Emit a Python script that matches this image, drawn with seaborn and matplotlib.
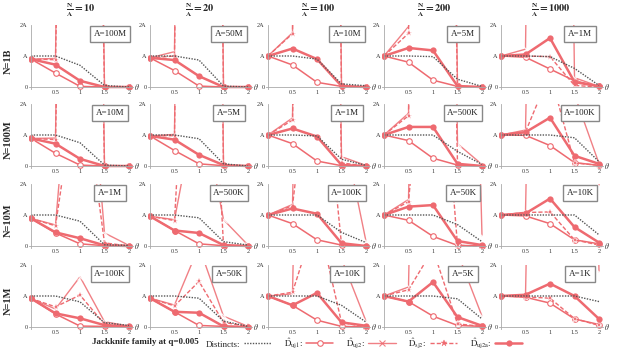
import matplotlib
matplotlib.use("Agg")
import matplotlib.pyplot as plt
import seaborn as sns
from matplotlib.lines import Line2D

sns.set_theme(style="white")
plt.rcParams['font.family'] = ['Liberation Serif', 'DejaVu Serif']
plt.rcParams['mathtext.fontset'] = 'stix'

# ---------------- data (values in units of A) ----------------
THETA = [0, 0.5, 1, 1.5, 2]
COL_RATIOS = ["10", "20", "100", "200", "1000"]
ROW_LABELS = ["N=1B", "N=100M", "N=10M", "N=1M"]
A_LABELS = [
    ["A=100M", "A=50M", "A=10M", "A=5M", "A=1M"],
    ["A=10M", "A=5M", "A=1M", "A=500K", "A=100K"],
    ["A=1M", "A=500K", "A=100K", "A=50K", "A=10K"],
    ["A=100K", "A=50K", "A=10K", "A=5K", "A=1K"],
]

DISTINCTS = [
    [1.0, 1.0, 0.70, 0.05, 0.0], [1.0, 1.0, 0.87, 0.03, 0.0], [1.0, 1.0, 0.90, 0.10, 0.04],
    [1.0, 1.0, 0.98, 0.25, 0.02], [1.0, 1.0, 0.98, 0.60, 0.05],
    [1.0, 1.0, 0.75, 0.03, 0.0], [1.0, 1.0, 0.88, 0.07, 0.0], [1.0, 1.0, 0.97, 0.22, 0.02],
    [1.0, 1.0, 1.0, 0.47, 0.05], [1.0, 1.0, 1.0, 0.91, 0.14],
    [1.0, 1.0, 0.80, 0.04, 0.02], [1.0, 1.0, 0.91, 0.14, 0.03], [1.0, 1.0, 1.0, 0.44, 0.11],
    [1.0, 1.0, 1.0, 0.69, 0.14], [1.0, 1.0, 1.0, 1.0, 0.36],
    [1.0, 1.0, 0.81, 0.14, 0.05], [1.0, 1.0, 0.93, 0.19, 0.02], [1.0, 1.0, 1.0, 0.70, 0.16],
    [1.0, 1.0, 1.0, 0.91, 0.26], [1.0, 1.0, 1.0, 1.0, 0.82],
]
UJ1 = [
    [0.90, 0.45, 0.02, 0.0, 0.0], [0.94, 0.53, 0.03, 0.0, 0.0], [1.0, 0.71, 0.15, 0.02, 0.0],
    [1.0, 0.80, 0.22, 0.02, 0.0], [1.0, 0.96, 0.58, 0.20, 0.02],
    [0.89, 0.41, 0.03, 0.0, 0.0], [0.97, 0.50, 0.07, 0.01, 0.0], [1.0, 0.72, 0.16, 0.01, 0.0],
    [1.0, 0.82, 0.25, 0.03, 0.0], [1.0, 0.99, 0.66, 0.11, 0.02],
    [0.89, 0.42, 0.07, 0.01, 0.0], [0.96, 0.50, 0.07, 0.01, 0.0], [1.0, 0.72, 0.20, 0.03, 0.0],
    [1.0, 0.83, 0.31, 0.02, 0.0], [1.0, 0.97, 0.72, 0.20, 0.07],
    [0.92, 0.42, 0.03, 0.02, 0.0], [0.93, 0.49, 0.05, 0.02, 0.0], [1.0, 0.70, 0.22, 0.02, 0.0],
    [1.0, 0.82, 0.35, 0.05, 0.02], [1.0, 0.96, 0.77, 0.26, 0.08],
]
UJ2 = [
    [0.90, 0.92, 60, 0.0, 0.0], [0.94, 1.14, 80, 0.0, 0.0], [1.0, 1.75, 80, 0.03, 0.0],
    [1.0, 1.95, 60, 0.02, 0.0], [1.0, 1.22, 60, 0.30, 0.02],
    [0.89, 0.90, 60, 0.0, 0.0], [0.97, 1.02, 80, 0.02, 0.0], [1.0, 1.55, 60, 0.30, 0.02],
    [1.0, 1.70, 60, 0.72, 0.05], [1.0, 1.16, 40, 2.3, 0.08],
    [0.89, 0.68, 10, 0.42, 0.02], [0.96, 0.85, 5, 0.85, 0.03], [1.0, 1.34, 40, 4.0, 0.15],
    [1.0, 1.50, 40, 30, 0.33], [1.0, 1.09, 40, 40, 1.95],
    [0.92, 0.58, 1.62, 0.17, 0.03], [0.93, 0.71, 2.6, 0.35, 0.02], [1.0, 1.07, 40, 2.2, 0.19],
    [1.0, 1.29, 40, 2.4, 0.35], [1.0, 1.03, 40, 40, 1.78],
]
SJ2 = [
    [0.90, 0.88, 40, 0.0, 0.0], [0.94, 1.0, 60, 0.0, 0.0], [1.0, 1.72, 60, 0.02, 0.0],
    [1.0, 1.73, 40, 0.02, 0.0], [1.0, 1.0, 0.98, 0.05, 0.0],
    [0.89, 0.85, 40, 0.0, 0.0], [0.97, 0.98, 60, 0.0, 0.0], [1.0, 1.48, 40, 0.10, 0.0],
    [1.0, 1.62, 40, 0.05, 0.0], [1.0, 1.10, 3.0, 0.10, 0.02],
    [0.89, 0.65, 6, 0.10, 0.0], [0.96, 0.82, 15, 0.02, 0.0], [1.0, 1.30, 8, 0.05, 0.0],
    [1.0, 1.43, 10, 0.02, 0.0], [1.0, 1.08, 1.10, 0.20, 0.03],
    [0.92, 0.65, 1.03, 0.09, 0.02], [0.93, 0.68, 1.47, 0.15, 0.02], [1.0, 1.12, 3.6, 0.15, 0.0],
    [1.0, 1.20, 2.5, 0.10, 0.02], [1.0, 0.97, 0.93, 0.27, 0.05],
]
UJ2A = [
    [0.90, 0.72, 0.20, 0.0, 0.0], [0.94, 0.87, 0.35, 0.0, 0.0], [1.0, 1.24, 0.90, 0.03, 0.0],
    [1.0, 1.26, 1.18, 0.03, 0.0], [1.0, 1.05, 1.58, 0.16, 0.02],
    [0.89, 0.72, 0.23, 0.0, 0.0], [0.97, 0.85, 0.36, 0.03, 0.0], [1.0, 1.21, 0.95, 0.03, 0.0],
    [1.0, 1.26, 1.26, 0.07, 0.0], [1.0, 1.09, 1.56, 0.33, 0.07],
    [0.89, 0.44, 0.25, 0.02, 0.0], [0.96, 0.50, 0.42, 0.03, 0.0], [1.0, 1.21, 1.04, 0.09, 0.0],
    [1.0, 1.27, 1.32, 0.16, 0.03], [1.0, 1.05, 1.53, 0.61, 0.11],
    [0.92, 0.44, 0.28, 0.06, 0.02], [0.93, 0.49, 0.46, 0.02, 0.0], [1.0, 0.70, 1.10, 0.15, 0.04],
    [1.0, 0.82, 1.45, 0.32, 0.04], [1.0, 1.04, 1.40, 1.0, 0.26],
]

# ---------------- style ----------------
RED = "#EE6A70"
GRAY = "#555555"
W, H = 619, 351
fig = plt.figure(figsize=(W / 100, H / 100), dpi=100)

COL_X0 = [31, 150, 268, 384, 501]      # pixel of theta = 0
ROW_ZERO = [87, 166, 246, 327]          # pixel of value 0
UX = 49.0                               # px per theta unit
UY = 31.0                               # px per A
XL = (-0.04, 2.08)
YL = (-0.05, 2.0)
PANEL_W = (XL[1] - XL[0]) * UX
PANEL_H = (YL[1] - YL[0]) * UY


def add_panel(r, c):
    left = COL_X0[c] + XL[0] * UX
    bottom = ROW_ZERO[r] - YL[0] * UY
    ax = fig.add_axes([left / W, 1 - bottom / H, PANEL_W / W, PANEL_H / H])
    ax.set_facecolor("none")
    return ax


for r in range(4):
    for c in range(5):
        k = r * 5 + c
        ax = add_panel(r, c)
        sns.lineplot(x=THETA, y=UJ1[k], ax=ax, color=RED, lw=1.1, marker="o", ms=4,
                     markerfacecolor="white", markeredgecolor=RED, markeredgewidth=0.8,
                     errorbar=None, legend=False)
        sns.lineplot(x=THETA, y=UJ2[k], ax=ax, color=RED, lw=1.0, marker="x", ms=4,
                     markeredgewidth=0.8, alpha=0.85, errorbar=None, legend=False)
        sns.lineplot(x=THETA, y=SJ2[k], ax=ax, color=RED, lw=1.0, linestyle=(0, (3, 1.5)),
                     marker="*", ms=4.5, markeredgewidth=0.3, errorbar=None, legend=False)
        sns.lineplot(x=THETA, y=UJ2A[k], ax=ax, color=RED, lw=1.8, marker="o", ms=4.5,
                     markeredgewidth=0, errorbar=None, legend=False)
        sns.lineplot(x=THETA, y=DISTINCTS[k], ax=ax, color=GRAY, lw=1.0,
                     linestyle=(0, (1, 1)), errorbar=None, legend=False)
        ax.set_xlim(*XL)
        ax.set_ylim(*YL)
        for s in ("top", "right"):
            ax.spines[s].set_visible(False)
        for s in ("left", "bottom"):
            ax.spines[s].set_position(("data", 0))
            ax.spines[s].set_color("#aaaaaa")
            ax.spines[s].set_linewidth(0.6)
        ax.set_xticks([0.5, 1, 1.5, 2])
        ax.set_xticklabels(["0.5", "1", "1.5", "2"])
        ax.set_yticks([0, 1, 2])
        ax.set_yticklabels(["0", "A", "2A"])
        ax.tick_params(axis="both", labelsize=4.5, length=1.5, width=0.5, color="#aaaaaa",
                       pad=1.0, labelcolor="#333333")
        ax.set_xlabel("")
        ax.set_ylabel("")
        ax.text(2.1, 0, r"$\theta$", fontsize=5.5, ha="left", va="center", color="#333333")
        ax.text(0.78, 0.86, A_LABELS[r][c], transform=ax.transAxes, ha="center",
                va="center", fontsize=6.5, color="#222222",
                bbox=dict(boxstyle="square,pad=0.4", fc="white", ec="#888888", lw=1.0))
        if r == 0:
            ax.text(0.5, 1.0 + 15 / PANEL_H, r"$\mathbf{\frac{N}{A}=" + COL_RATIOS[c] + "}$",
                    transform=ax.transAxes, ha="center", va="center", fontsize=7.5)
        if c == 0:
            fig.text(8 / W, 1 - (ROW_ZERO[r] - 26) / H, ROW_LABELS[r], rotation=90,
                     ha="center", va="center", fontsize=7.5, fontweight="bold")

# ---------------- legend ----------------
handles = [
    Line2D([], [], color=GRAY, lw=1.0, linestyle=(0, (1, 1))),
    Line2D([], [], color=RED, lw=1.1, marker="o", ms=4, markerfacecolor="white",
           markeredgecolor=RED, markeredgewidth=0.8),
    Line2D([], [], color=RED, lw=1.0, marker="x", ms=4, markeredgewidth=0.8, alpha=0.85),
    Line2D([], [], color=RED, lw=1.0, linestyle=(0, (3, 1.5)), marker="*", ms=4.5,
           markeredgewidth=0.3),
    Line2D([], [], color=RED, lw=1.8, marker="o", ms=4.5, markeredgewidth=0),
]
labels = ["Distincts:", r"$\hat{\mathrm{D}}_{\mathrm{uj1}}$:", r"$\hat{\mathrm{D}}_{\mathrm{uj2}}$:",
          r"$\hat{\mathrm{D}}_{\mathrm{sj2}}$:", r"$\hat{\mathrm{D}}_{\mathrm{uj2a}}$:"]
fig.legend(handles, labels, loc="center left", bbox_to_anchor=(206 / W, 1 - 343.5 / H), ncol=5,
           frameon=False, markerfirst=False, fontsize=6.5, handlelength=3.0,
           handletextpad=0.4, columnspacing=1.4, borderpad=0, borderaxespad=0)
fig.text(145 / W, 1 - 342 / H, "Jackknife family at q=0.005", ha="center", va="center",
         fontsize=6.5, fontweight="bold")

fig.savefig("out.png", dpi=100)
